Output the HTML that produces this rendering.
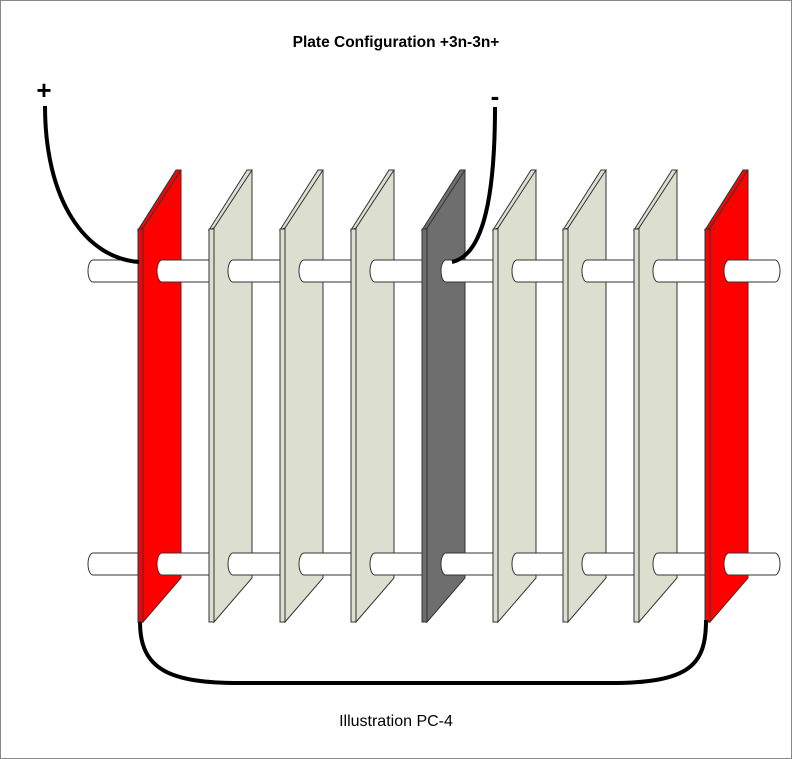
<!DOCTYPE html>
<html><head><style>
html,body{margin:0;padding:0;background:#fff;}
svg{display:block;}
</style></head><body>
<svg width="792" height="759" viewBox="0 0 792 759" xmlns="http://www.w3.org/2000/svg">
<defs>
<g id="plate" stroke="#333" stroke-width="1">
<polygon points="5,228 42,170 43,170 43,578 5,622"/>
<polygon points="0,230 38,170 43,170 5,228"/>
<rect x="0" y="229" width="5" height="393"/>
</g>
<g id="rods" fill="#fff" stroke="#333" stroke-width="1">
<path d="M77,260 L24,260 A5,11 0 0 0 24,282 L77,282"/>
<path d="M77,553 L24,553 A5,11 0 0 0 24,575 L77,575"/>
</g>
</defs>
<rect x="0.5" y="0.5" width="791" height="758" fill="#fff" stroke="#888" stroke-width="1"/>
<text x="396" y="47" font-family="Liberation Sans, sans-serif" font-weight="bold" font-size="15.5" text-anchor="middle">Plate Configuration +3n-3n+</text>
<text x="44" y="99" font-family="Liberation Sans, sans-serif" font-weight="bold" font-size="26" text-anchor="middle">+</text>
<text x="495" y="105" font-family="Liberation Sans, sans-serif" font-weight="bold" font-size="26" text-anchor="middle">-</text>
<text x="396" y="726" font-family="Liberation Sans, sans-serif" font-size="16" text-anchor="middle">Illustration PC-4</text>

<use href="#rods" transform="translate(69,0)"/>
<g transform="translate(138,0)"><use href="#plate" fill="#ff0000"/><use href="#rods"/></g>
<g transform="translate(209,0)"><use href="#plate" fill="#dcdfcf"/><use href="#rods"/></g>
<g transform="translate(280,0)"><use href="#plate" fill="#dcdfcf"/><use href="#rods"/></g>
<g transform="translate(351,0)"><use href="#plate" fill="#dcdfcf"/><use href="#rods"/></g>
<g transform="translate(422,0)"><use href="#plate" fill="#6e6e6e"/><use href="#rods"/></g>
<g transform="translate(493,0)"><use href="#plate" fill="#dcdfcf"/><use href="#rods"/></g>
<g transform="translate(563,0)"><use href="#plate" fill="#dcdfcf"/><use href="#rods"/></g>
<g transform="translate(634,0)"><use href="#plate" fill="#dcdfcf"/><use href="#rods"/></g>
<g transform="translate(705,0)"><use href="#plate" fill="#ff0000"/>
<g fill="#fff" stroke="#333" stroke-width="1">
<path d="M70,260 L24,260 A5,11 0 0 0 24,282 L70,282 A5,11 0 0 0 70,260 Z"/>
<path d="M70,553 L24,553 A5,11 0 0 0 24,575 L70,575 A5,11 0 0 0 70,553 Z"/>
</g></g>

<path d="M45,106 C45,200 85,258 139,262" fill="none" stroke="#000" stroke-width="4"/>
<path d="M495,107 C495,190 485,255 452,262" fill="none" stroke="#000" stroke-width="4"/>
<path d="M140,622 C140,670 170,683 240,683 L610,683 C690,683 706,665 706,620" fill="none" stroke="#000" stroke-width="4"/>
</svg>
</body></html>
